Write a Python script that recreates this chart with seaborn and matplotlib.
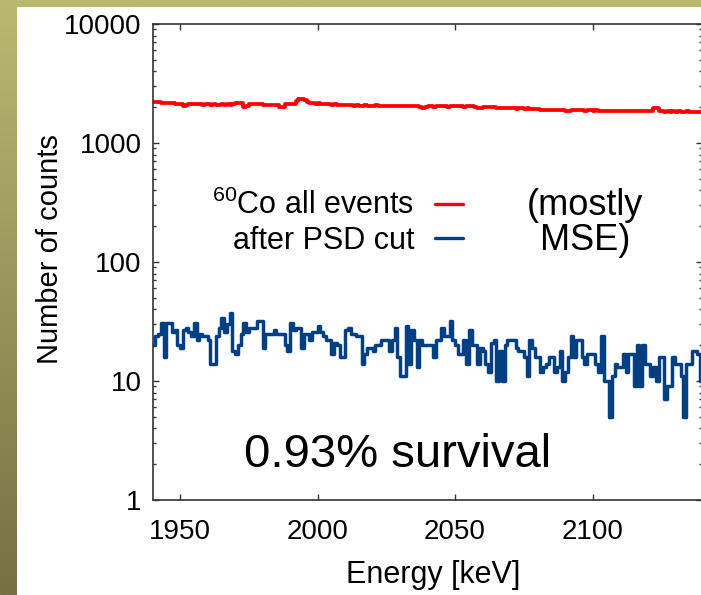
import numpy as np
import pandas as pd
import matplotlib
matplotlib.use("Agg")
import matplotlib.pyplot as plt
from matplotlib.patches import Rectangle
from matplotlib.lines import Line2D
from matplotlib.ticker import LogLocator, NullFormatter, NullLocator
import seaborn as sns

# ---------------- data (1 keV bins, left edges) ----------------
bin_start_keV = 1940
bin_stop_keV = 2140

co60_all_events = [
    2220, 2210, 2190, 2180, 2170, 2160, 2150, 2155, 2140, 2130,
    2110, 2050, 2080, 2130, 2120, 2140, 2110, 2130, 2100, 2120,
    2110, 2090, 2120, 2100, 2080, 2110, 2090, 2110, 2100, 2120,
    2150, 2180, 2170, 2010, 2030, 2130, 2140, 2120, 2140, 2130,
    2090, 2080, 2100, 2070, 2090, 2080, 2000, 2010, 2110, 2120,
    2110, 2140, 2260, 2330, 2340, 2320, 2230, 2170, 2160, 2130,
    2150, 2140, 2120, 2110, 2130, 2100, 2110, 2080, 2090, 2080,
    2070, 2090, 2080, 2060, 2070, 2050, 2060, 2070, 2040, 2050,
    2060, 2070, 2050, 2040, 2030, 2050, 2040, 2060, 2050, 2040,
    2030, 2040, 2050, 2030, 2040, 2050, 2030, 2020, 1950, 2010,
    2030, 2040, 2020, 2030, 2040, 2030, 2040, 2020, 2030, 2040,
    2030, 2040, 2030, 2020, 2030, 2040, 2030, 2020, 1950, 1960,
    2000, 2010, 2000, 1990, 2000, 1980, 1970, 1960, 1980, 1960,
    1950, 1960, 1940, 1960, 1950, 1930, 1950, 1940, 1920, 1930,
    1920, 1910, 1900, 1910, 1890, 1900, 1890, 1910, 1890, 1880,
    1840, 1850, 1890, 1900, 1880, 1890, 1880, 1870, 1890, 1880,
    1870, 1880, 1860, 1870, 1860, 1850, 1870, 1860, 1850, 1860,
    1850, 1860, 1850, 1840, 1850, 1860, 1840, 1850, 1840, 1850,
    1850, 1840, 1950, 1960, 1860, 1840, 1830, 1840, 1830, 1840,
    1830, 1840, 1820, 1830, 1840, 1830, 1820, 1830, 1820, 1830,
]

after_psd_cut = [
    20, 24, 25, 31, 16, 31, 31, 26, 27, 20,
    19, 27, 28, 26, 24, 31, 22, 25, 24, 24,
    22, 14, 14, 24, 28, 34, 26, 30, 37, 18,
    17, 20, 25, 31, 26, 28, 28, 28, 32, 32,
    19, 25, 25, 25, 27, 25, 25, 25, 20, 18,
    31, 27, 28, 28, 19, 25, 25, 22, 26, 26,
    29, 26, 24, 22, 22, 17, 21, 20, 16, 16,
    27, 28, 25, 25, 24, 24, 14, 17, 19, 19,
    18, 20, 20, 22, 22, 22, 18, 22, 28, 16,
    11, 11, 29, 14, 27, 22, 13, 22, 20, 20,
    20, 20, 16, 22, 22, 28, 24, 24, 32, 22,
    20, 17, 17, 22, 14, 27, 20, 20, 14, 19,
    18, 14, 12, 21, 22, 10, 18, 10, 20, 22,
    22, 22, 19, 18, 18, 16, 11, 22, 19, 16,
    16, 12, 13, 14, 16, 16, 12, 13, 18, 10,
    12, 16, 24, 16, 22, 22, 16, 14, 17, 17,
    17, 14, 12, 24, 10, 10, 5, 11, 14, 13,
    13, 17, 12, 17, 17, 9, 20, 9, 20, 14,
    14, 11, 13, 10, 16, 16, 7, 9, 9, 16,
    14, 14, 11, 5, 14, 14, 18, 18, 17, 10,
]

x_ticks = [1950, 2000, 2050, 2100]
y_ticks = [1, 10, 100, 1000, 10000]
y_tick_labels = ["1", "10", "100", "1000", "10000"]
label_all = r"$^{60}$Co all events"
label_psd = "after PSD cut"

n_bins = len(after_psd_cut)
energy = np.arange(bin_start_keV, bin_stop_keV) + 0.5

df_all = pd.DataFrame({"energy": energy, "counts": co60_all_events})
df_psd = pd.DataFrame({"energy": energy, "counts": after_psd_cut})

# ---------------- style ----------------
sns.set_theme(style="ticks")
plt.rcParams["font.family"] = ["Liberation Sans", "DejaVu Sans"]
plt.rcParams["mathtext.fontset"] = "custom"
plt.rcParams["mathtext.rm"] = "Liberation Sans"
plt.rcParams["mathtext.it"] = "Liberation Sans:italic"
plt.rcParams["text.color"] = "black"
plt.rcParams["axes.labelcolor"] = "black"
plt.rcParams["xtick.labelcolor"] = "black"
plt.rcParams["ytick.labelcolor"] = "black"

W, H = 701, 595
fig = plt.figure(figsize=(W / 100, H / 100), dpi=100)

# olive slide background with white panel
bg = fig.add_axes([0, 0, 1, 1], zorder=-10)
top_c = np.array([186, 185, 114]) / 255
bot_c = np.array([118, 112, 68]) / 255
t = np.linspace(0, 1, 256)[:, None, None]
grad = top_c * (1 - t) + bot_c * t
bg.imshow(grad, aspect="auto", extent=[0, 1, 0, 1], origin="upper")
bg.add_patch(Rectangle((17 / W, 0), 1, 1 - 7 / H, color="white", lw=0))
bg.set_xlim(0, 1)
bg.set_ylim(0, 1)
bg.axis("off")

ax = fig.add_axes([152.5 / W, (H - 500) / H, 550 / W, 476 / H])
ax.set_facecolor("white")
ax.spines["right"].set_visible(False)

red = "#ff0000"
blue = "#003f82"
sns.histplot(data=df_all, x="energy", weights="counts",
             bins=n_bins, binrange=(bin_start_keV, bin_stop_keV),
             element="step", fill=False, color=red, linewidth=2.7, ax=ax)
sns.histplot(data=df_psd, x="energy", weights="counts",
             bins=n_bins, binrange=(bin_start_keV, bin_stop_keV),
             element="step", fill=False, color=blue, linewidth=2.5, ax=ax)

ax.set_yscale("log")
ax.set_xlim(bin_start_keV, bin_stop_keV)
ax.set_ylim(1, 10000)

ax.set_xticks(x_ticks)
ax.set_yticks(y_ticks, labels=y_tick_labels)
ax.xaxis.set_minor_locator(NullLocator())
ax.yaxis.set_minor_locator(LogLocator(base=10, subs=np.arange(2, 10)))
ax.yaxis.set_minor_formatter(NullFormatter())

ax.tick_params(which="both", direction="in", top=True, right=True,
               color="#333333", width=1.0)
ax.tick_params(which="major", length=4.5, labelsize=20, labelcolor="black")
ax.tick_params(which="minor", length=2.5)
ax.tick_params(axis="y", pad=8)
ax.tick_params(axis="x", pad=14)
for s in ax.spines.values():
    s.set_color("#333333")
    s.set_linewidth(1.2)

ax.set_xlabel("Energy [keV]", fontsize=22, color="black")
ax.set_ylabel("Number of counts", fontsize=21, color="black")
ax.xaxis.set_label_coords((433 - 152.5) / 550, (500 - 575) / 476)
ax.yaxis.set_label_coords((50 - 152.5) / 550, (500 - 249) / 476)
ax.xaxis.label.set_verticalalignment("center")
ax.yaxis.label.set_verticalalignment("center")

handles = [Line2D([], [], color=red, lw=2.4), Line2D([], [], color=blue, lw=2.4)]
leg = ax.legend(handles, [label_all, label_psd], loc="center right",
                bbox_to_anchor=((463 - 152.5) / 550, (500 - 223) / 476),
                markerfirst=False, frameon=False, fontsize=22,
                handlelength=0.9, handletextpad=0.7, labelspacing=0.15,
                borderpad=0, borderaxespad=0)
for txt in leg.get_texts():
    txt.set_color("black")

ax.text((585 - 152.5) / 550, (500 - 223) / 476, "(mostly\nMSE)",
        transform=ax.transAxes, ha="center", va="center", fontsize=26,
        linespacing=1.0, color="black")
ax.text((398 - 152.5) / 550, (500 - 455) / 476, "0.93% survival",
        transform=ax.transAxes, ha="center", va="center", fontsize=34,
        color="black")

fig.savefig("out.png", dpi=100)
